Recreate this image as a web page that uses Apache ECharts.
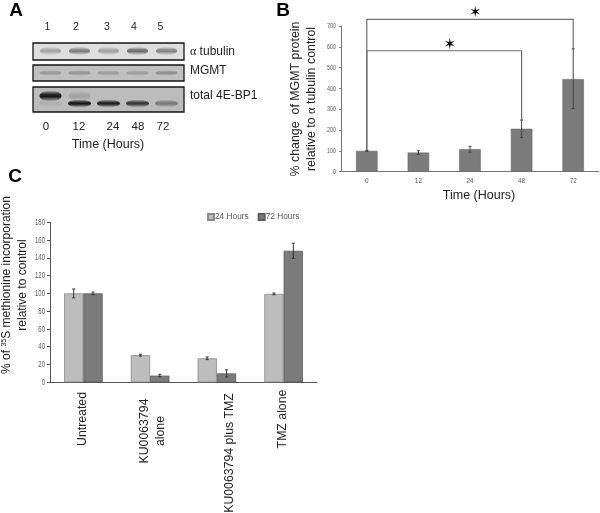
<!DOCTYPE html>
<html><head><meta charset="utf-8">
<script src="https://cdn.jsdelivr.net/npm/echarts@6/dist/echarts.min.js"></script>
<style>html,body{margin:0;padding:0;background:#fff}#c{width:600px;height:513px}</style>
</head><body><div id="c"></div>
<script>
// ---------- data ----------
const laneLabels = ['1','2','3','4','5'];
const timeLabels = ['0','12','24','48','72'];
const tubulinBands = [0.27,0.45,0.28,0.52,0.42];
const mgmtBands = [0.22,0.24,0.2,0.2,0.28];
const bp1LowerBands = [0.08,0.95,0.9,0.75,0.38];
const bp1UpperBands = [0.95,0.14,0,0,0];

const mgmtValues = [100,92,108,206,445];
const mgmtErrLow = [2,9,14,42,142];
const mgmtErrHigh = [2,9,14,42,145];
const mgmtTicks = [0,100,200,300,400,500,600,700];
const bracket48 = [100,581,581,248];
const bracket72 = [100,732,732,590];
const stars = [[1.61,610],[2.1,764]];

const treatments = ['Untreated','KU0063794 alone','KU0063794 plus TMZ','TMZ alone'];
const hours24 = [100,30.5,27,99.5];
const hours72 = [100,7.5,10,148];
const err24 = [5,1,1.5,1];
const err72 = [1.5,1.5,4,8.5];
const methTicks = [0,20,40,60,80,100,120,140,160,180];

// ---------- style ----------
const F = '"Liberation Sans",Arial,sans-serif';
const S = '"Liberation Serif",serif';
const rows = [
 {y:43,h:17,bg:'#dedede',by:51,ry:4.2},
 {y:65,h:16,bg:'#c0c0c0',by:73,ry:3},
 {y:87,h:25,bg:'#bcbcbc',by:103.5,ry:4}
];
const rowX=33, rowW=151;

function band(cx,cy,rx,ry,a){
  const c=x=>'rgba(15,15,15,'+x+')';
  return {type:'ellipse',shape:{cx,cy,rx,ry},
    style:{fill:new echarts.graphic.LinearGradient(0,0,0,1,[
      {offset:0,color:c(0)},{offset:0.35,color:c(a*0.85)},{offset:0.55,color:c(a)},{offset:0.75,color:c(a*0.5)},{offset:1,color:c(0)}]),
      shadowBlur:2,shadowColor:c(a*0.25)}};
}
function bandSeries(values,rowIdx,rx,ry,dy){
  return {type:'custom',xAxisIndex:0,yAxisIndex:0,z:5,silent:true,
    data:values.map((v,i)=>[i,0,v]),
    encode:{x:0,y:1},
    renderItem(p,api){
      const a=api.value(2); if(!a) return null;
      const x=api.coord([api.value(0),0])[0];
      return band(x,rows[rowIdx].by+dy,rx,ry,a);
    }};
}
function errSeries(xi,yi,vals,lo,hi,cap,offset,color){
  return {type:'custom',xAxisIndex:xi,yAxisIndex:yi,z:6,silent:true,clip:false,
    data:vals.map((v,i)=>[i,v-lo[i],v+hi[i]]),
    encode:{x:0,y:[1,2]},
    renderItem(p,api){
      const c=api.value(0);
      const size=api.size([1,0])[0];
      const a=api.coord([c,api.value(1)]), b=api.coord([c,api.value(2)]);
      const x=a[0]+offset*size;
      const st={stroke:color,lineWidth:1,fill:null};
      return {type:'group',children:[
        {type:'line',shape:{x1:x,y1:a[1],x2:x,y2:b[1]},style:st},
        {type:'line',shape:{x1:x-cap,y1:a[1],x2:x+cap,y2:a[1]},style:st},
        {type:'line',shape:{x1:x-cap,y1:b[1],x2:x+cap,y2:b[1]},style:st}
      ]};
    }};
}
function bracket(vals,endIdx){
  return {type:'line',xAxisIndex:1,yAxisIndex:1,clip:false,symbol:'none',silent:true,z:4,
    lineStyle:{color:'#6e6e6e',width:1.2},
    data:[[0,vals[0]],[0,vals[1]],[endIdx,vals[2]],[endIdx,vals[3]]]};
}
// condensed tick labels: the reference uses squeezed digits
function tickLabelsY(xi,yi,ticks,size,scale,margin){
  return {type:'custom',xAxisIndex:xi,yAxisIndex:yi,clip:false,silent:true,z:7,
    data:ticks.map(t=>[0,t]),encode:{x:0,y:1},
    renderItem(p,api){
      const v=api.value(1), c=api.coord([0,v]), left=p.coordSys.x;
      return {type:'text',x:left-margin,y:c[1],scaleX:scale,
        style:{text:String(v),fontFamily:F,fontSize:size,fill:'#5a5a5a',align:'right',verticalAlign:'middle'}};
    }};
}
function tickLabelsX(xi,yi,labels,size,scale,margin){
  return {type:'custom',xAxisIndex:xi,yAxisIndex:yi,clip:false,silent:true,z:7,
    data:labels.map((t,i)=>[i,0]),encode:{x:0,y:1},
    renderItem(p,api){
      const i=api.value(0), c=api.coord([i,0]);
      return {type:'text',x:c[0],y:c[1]+margin,scaleX:scale,
        style:{text:labels[i],fontFamily:F,fontSize:size,fill:'#5a5a5a',align:'center',verticalAlign:'middle'}};
    }};
}
function txt(t,x,y,size,opt={}){
  return {type:'text',x,y,rotation:opt.rot?Math.PI/2:0,z:20,silent:true,
    style:{text:t,fontFamily:opt.family||F,fontSize:size,fontWeight:opt.bold?'bold':'normal',
      fill:opt.color||'#222',align:opt.align||'center',verticalAlign:'middle',rich:opt.rich}};
}
const alphaRich=size=>({a:{fontFamily:S,fontSize:size,fill:'#222'},n:{fontFamily:F,fontSize:size,fill:'#222'}});

const graphics=[
  txt('A',16,11,19,{bold:true,color:'#000'}),
  txt('B',283,11,19,{bold:true,color:'#000'}),
  txt('C',15,177,19,{bold:true,color:'#000'}),
  txt('{a|α}{n| tubulin}',190,52,12,{align:'left',rich:alphaRich(12)}),
  txt('MGMT',190,71,12,{align:'left'}),
  txt('total 4E-BP1',190,96,12,{align:'left'}),
  txt('Time (Hours)',108,145,12.5),
  txt('Time (Hours)',479,196,12.5),
  txt('% change  of MGMT protein',296,99,12.4,{rot:true}),
  txt('{n|relative to }{a|α}{n| tubulin control}',312,99,12.4,{rot:true,rich:alphaRich(12.4)}),
  txt('{n|% of }{s|35}{n|S methionine incorporation}',7,285,12,{rot:true,
     rich:{n:{fontFamily:F,fontSize:12,fill:'#222'},s:{fontFamily:F,fontSize:7,fill:'#222',verticalAlign:'top',padding:[0,0,5,0]}}}),
  txt('relative to control',23,285,12,{rot:true}),
  txt('Untreated',83,419,12.3,{rot:true}),
  txt('KU0063794',145,431,12.3,{rot:true}),
  txt('alone',161,431,12.3,{rot:true}),
  txt('KU0063794 plus TMZ',230,453,12.3,{rot:true}),
  txt('TMZ alone',283,419,12.3,{rot:true})
];
[47.5,76,107,134,160.5].forEach((x,i)=>graphics.push(txt(laneLabels[i],x,27,10.5)));
[46,79,113,138,163].forEach((x,i)=>graphics.push(txt(timeLabels[i],x,127,11.5)));
rows.forEach(r=>{
  graphics.push({type:'rect',z:1,silent:true,shape:{x:rowX,y:r.y,width:rowW,height:r.h},style:{fill:r.bg}});
  graphics.push({type:'rect',z:10,silent:true,shape:{x:rowX,y:r.y,width:rowW,height:r.h},style:{fill:'none',stroke:'#151515',lineWidth:1.3}});
});

const option={
  animation:false,backgroundColor:'#fff',
  graphic:{elements:graphics},
  legend:{left:207,top:213,padding:0,itemWidth:6,itemHeight:6,itemGap:9,icon:'rect',
    data:['24 Hours','72 Hours'],selectedMode:false,
    textStyle:{fontFamily:F,fontSize:8.3,color:'#555',padding:[0,0,0,-4]}},
  grid:[
    {left:36,top:43,width:145,height:69},
    {left:341,top:26,width:258,height:145.7},
    {left:50,top:222.3,width:267,height:160}
  ],
  xAxis:[
    {gridIndex:0,type:'category',data:laneLabels,show:false},
    {gridIndex:1,type:'category',data:timeLabels,
      axisLine:{lineStyle:{color:'#777'}},axisTick:{length:2,lineStyle:{color:'#777'}},axisLabel:{show:false}},
    {gridIndex:2,type:'category',data:treatments,
      axisLine:{lineStyle:{color:'#555'}},axisTick:{length:3,lineStyle:{color:'#555'}},axisLabel:{show:false}}
  ],
  yAxis:[
    {gridIndex:0,type:'value',show:false,min:0,max:1},
    {gridIndex:1,type:'value',min:0,max:700,interval:100,splitLine:{show:false},
      axisLine:{show:true,lineStyle:{color:'#777'}},axisTick:{show:true,length:2,lineStyle:{color:'#777'}},axisLabel:{show:false}},
    {gridIndex:2,type:'value',min:0,max:180,interval:20,splitLine:{show:false},
      axisLine:{show:true,lineStyle:{color:'#555'}},axisTick:{show:true,length:3,lineStyle:{color:'#555'}},axisLabel:{show:false}}
  ],
  series:[
    bandSeries(tubulinBands,0,10.5,rows[0].ry,0),
    bandSeries(mgmtBands,1,11,rows[1].ry,0),
    bandSeries(bp1LowerBands,2,11.5,rows[2].ry,0),
    bandSeries(bp1UpperBands,2,11,5.5,-7.5),
    {type:'bar',xAxisIndex:1,yAxisIndex:1,data:mgmtValues,barWidth:21.5,z:2,
      itemStyle:{color:'#7b7b7b',borderColor:'#666',borderWidth:0.6}},
    errSeries(1,1,mgmtValues,mgmtErrLow,mgmtErrHigh,1.5,0,'#444'),
    bracket(bracket48,3),
    bracket(bracket72,4),
    {type:'custom',xAxisIndex:1,yAxisIndex:1,clip:false,silent:true,z:8,
      data:stars,encode:{x:0,y:1},
      renderItem(p,api){
        const u=api.value(0), i=Math.floor(u);
        const c=api.coord([i,api.value(1)]);
        const s=api.size([1,0])[0];
        return {type:'text',x:c[0]+(u-i)*s,y:c[1],
          style:{text:'✶',fontFamily:'"DejaVu Sans"',fontSize:15,fill:'#111',align:'center',verticalAlign:'middle'}};
      }},
    tickLabelsY(1,1,mgmtTicks,7.5,0.72,5),
    tickLabelsX(1,1,timeLabels,8,0.8,9),
    tickLabelsY(2,2,methTicks,9.5,0.63,5),
    {name:'24 Hours',type:'bar',xAxisIndex:2,yAxisIndex:2,data:hours24,barWidth:19.3,barGap:'0%',z:2,
      itemStyle:{color:'#bdbdbd',borderColor:'#8a8a8a',borderWidth:0.8}},
    {name:'72 Hours',type:'bar',xAxisIndex:2,yAxisIndex:2,data:hours72,barWidth:19.3,barGap:'0%',z:2,
      itemStyle:{color:'#7b7b7b',borderColor:'#5c5c5c',borderWidth:0.8}},
    errSeries(2,2,hours24,err24,err24,1.5,-0.145,'#333'),
    errSeries(2,2,hours72,err72,err72,1.5,0.145,'#333')
  ]
};
const chart=echarts.init(document.getElementById('c'),null,{renderer:'canvas'});
chart.setOption(option);
</script></body></html>
